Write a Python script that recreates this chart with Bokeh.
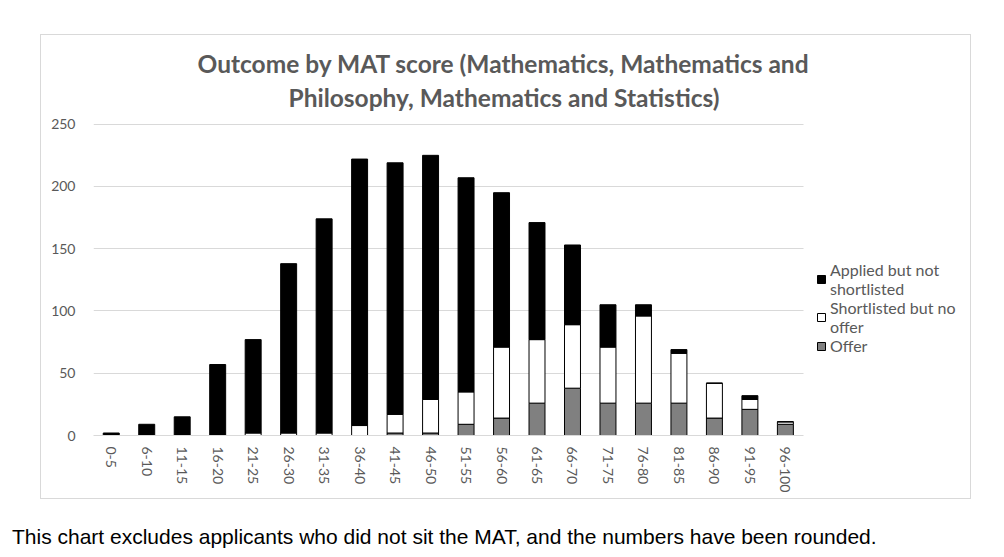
from bokeh.plotting import figure
from bokeh.models import (ColumnDataSource, Range1d, FixedTicker, Legend,
                          LegendItem, Title, Div, Spacer)
from bokeh.layouts import column, row
from bokeh.embed import file_html
from bokeh.resources import INLINE

categories = ["0-5", "6-10", "11-15", "16-20", "21-25", "26-30", "31-35", "36-40",
              "41-45", "46-50", "51-55", "56-60", "61-65", "66-70", "71-75", "76-80",
              "81-85", "86-90", "91-95", "96-100"]
offer = [0, 0, 0, 0, 0, 0, 0, 0, 2, 2, 9, 14, 26, 38, 26, 26, 26, 14, 21, 9]
shortlisted_no_offer = [0, 0, 0, 0, 2, 2, 2, 8, 15, 27, 26, 57, 51, 51, 45, 70, 40, 28, 8, 2]
applied_not_shortlisted = [2, 9, 15, 57, 75, 136, 172, 214, 202, 196, 172, 124, 94, 64, 34, 9, 3, 0, 3, 0]
y_ticks = [0, 50, 100, 150, 200, 250]

title_line1 = "Outcome by MAT score (Mathematics, Mathematics and"
title_line2 = "Philosophy, Mathematics and Statistics)"
footnote = "This chart excludes applicants who did not sit the MAT, and the numbers have been rounded."

FONT = "Lato"
GREY_TEXT = "#595959"
GRID = "#d9d9d9"

n = len(categories)
xpos = list(range(n))
src = ColumnDataSource(dict(x=xpos, cat=categories, offer=offer, short=shortlisted_no_offer,
                            applied=applied_not_shortlisted))

# plot frame extends under the legend; the category slots fill the left 708 px of it
FRAME_W = 873
x_end = -0.5 + n * FRAME_W / 708.0
p = figure(x_range=Range1d(-0.5, x_end), y_range=Range1d(0, 257.8),
           frame_width=FRAME_W, frame_height=319, output_backend="svg", toolbar_location=None,
           min_border_left=52, min_border_right=4, min_border_top=79, min_border_bottom=65)

rs = p.vbar_stack(["offer", "short", "applied"], x="x", width=0.45, source=src,
                  fill_color=["#808080", "#ffffff", "#000000"], line_color="black", line_width=1)

p.outline_line_color = None
p.xgrid.grid_line_color = None
p.ygrid.grid_line_color = GRID
p.ygrid.ticker = FixedTicker(ticks=y_ticks)
p.ygrid.cross_bounds = (-0.5, n - 0.5)
p.yaxis.ticker = FixedTicker(ticks=y_ticks)
p.yaxis.axis_line_color = None
p.yaxis.major_tick_line_color = None
p.yaxis.minor_tick_line_color = None
p.yaxis.major_label_standoff = 12
p.xaxis.ticker = FixedTicker(ticks=xpos)
p.xaxis.major_label_overrides = {i: c for i, c in zip(xpos, categories)}
p.xaxis.axis_line_color = GRID
p.xaxis.bounds = (-0.5, n - 0.5)
p.xaxis.major_tick_line_color = None
p.xaxis.minor_tick_line_color = None
p.xaxis.major_label_orientation = "vertical"
p.xaxis.major_label_standoff = 5
for ax in (p.xaxis, p.yaxis):
    ax.major_label_text_font = FONT
    ax.major_label_text_font_size = "14px"
    ax.major_label_text_color = GREY_TEXT

t2 = Title(text=title_line2, align="left", text_font=FONT, text_font_size="24.5px",
           text_font_style="bold", text_color=GREY_TEXT, offset=195, standoff=6)
t1 = Title(text=title_line1, align="left", text_font=FONT, text_font_size="24.5px",
           text_font_style="bold", text_color=GREY_TEXT, offset=104, standoff=0)
p.add_layout(t2, "above")
p.add_layout(t1, "above")

legend = Legend(items=[LegendItem(label="Applied but not\nshortlisted", renderers=[rs[2]]),
                       LegendItem(label="Shortlisted but no\noffer", renderers=[rs[1]]),
                       LegendItem(label="Offer", renderers=[rs[0]])],
                location=(723, 80), border_line_color=None, background_fill_alpha=0,
                label_text_font=FONT, label_text_font_size="16px", label_text_color=GREY_TEXT,
                glyph_width=10, glyph_height=10, spacing=0, padding=0, margin=0,
                label_standoff=4)
p.add_layout(legend, "center")

p.styles = {"border": "1px solid #d9d9d9"}

note = Div(text=footnote, styles={"font-family": "Liberation Sans, Arial, sans-serif",
                                  "font-size": "21px", "color": "black",
                                  "margin-left": "12px", "white-space": "nowrap"})

layout = column(Spacer(height=34), row(Spacer(width=40), p), Spacer(height=18), note)

open("out.html", "w").write(file_html(layout, INLINE))
